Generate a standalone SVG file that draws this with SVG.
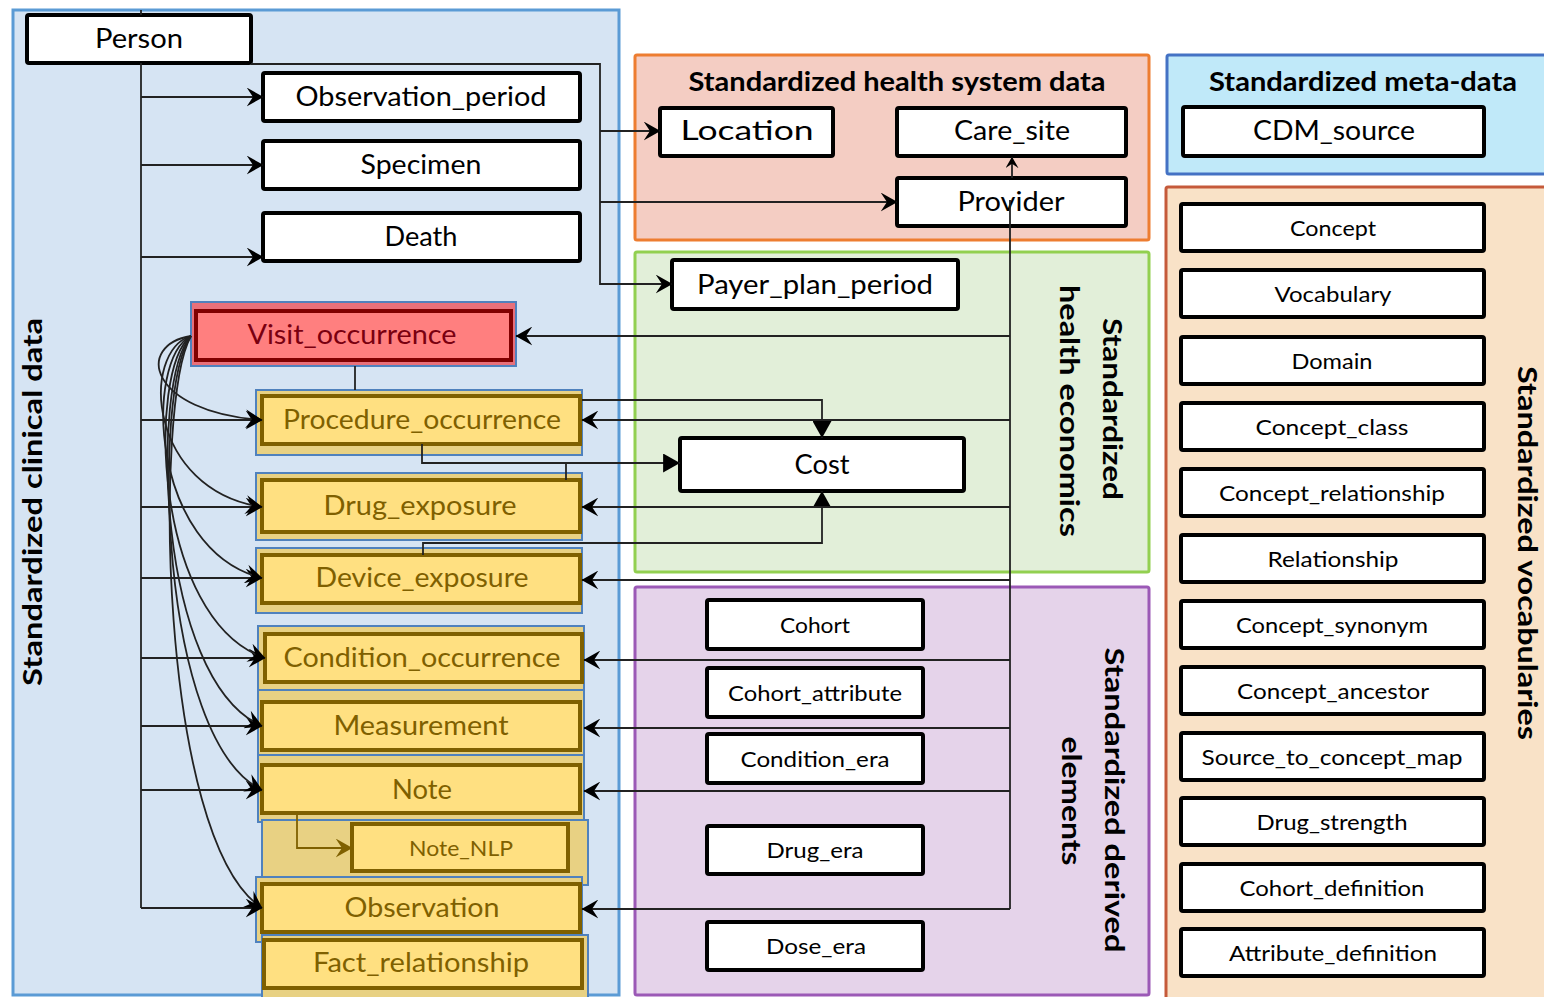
<svg xmlns="http://www.w3.org/2000/svg" width="1544" height="997" viewBox="0 0 1544 997">
<style>
.t{font-family:Lato,"Liberation Sans",sans-serif;font-size:26px;fill:#000;text-anchor:middle;dominant-baseline:central}
.s{font-size:22px}
.b{font-weight:bold}
.box{fill:#fff;stroke:#000;stroke-width:4}
.yo{fill:#e8d183;stroke:#4f81bd;stroke-width:2}
.yi{fill:#ffe081;stroke:#7f6000;stroke-width:4}
.yt{fill:#7f6000}
.c{fill:none;stroke:#222;stroke-width:1.8}
.ca{fill:none;stroke:#222;stroke-width:1.8;marker-end:url(#open)}
.cf{fill:none;stroke:#222;stroke-width:1.8;marker-end:url(#tri)}
</style>
<defs>
<marker id="open" viewBox="0 0 16 18" markerWidth="17" markerHeight="19" refX="15.5" refY="9" orient="auto" markerUnits="userSpaceOnUse"><path d="M0,0 L16,9 L0,18 L6,9 z" fill="#000"/></marker>
<marker id="opensm" viewBox="0 0 16 18" markerWidth="12" markerHeight="13" refX="15.5" refY="9" orient="auto" markerUnits="userSpaceOnUse"><path d="M0,0 L16,9 L0,18 L6,9 z" fill="#000"/></marker>
<marker id="openbr" viewBox="0 0 16 18" markerWidth="17" markerHeight="19" refX="15.5" refY="9" orient="auto" markerUnits="userSpaceOnUse"><path d="M0,0 L16,9 L0,18 L6,9 z" fill="#7f6000"/></marker>
<marker id="tri" viewBox="0 0 16 18" markerWidth="17" markerHeight="19" refX="16" refY="9" orient="auto" markerUnits="userSpaceOnUse"><path d="M0,0 L16,9 L0,18 z" fill="#000"/></marker>
</defs>

<!-- panels -->
<g id="panel-clinical">
<rect x="13" y="10" width="606" height="985" fill="#d6e4f3" stroke="#5b9bd5" stroke-width="3"/>
<text class="t b" transform="translate(32,502) rotate(-90)" textLength="368" lengthAdjust="spacingAndGlyphs" font-size="27">Standardized clinical data</text>
</g>
<g id="panel-healthsystem">
<rect x="635" y="55" width="514" height="185" rx="2" fill="#f4cdc3" stroke="#ed7d31" stroke-width="3"/>
<text class="t b" x="897" y="81" textLength="417" lengthAdjust="spacingAndGlyphs">Standardized health system data</text>
</g>
<g id="panel-meta">
<rect x="1167" y="55" width="390" height="119" rx="2" fill="#c0e9f9" stroke="#4472c4" stroke-width="3"/>
<text class="t b" x="1363" y="81" textLength="308" lengthAdjust="spacingAndGlyphs">Standardized meta-data</text>
</g>
<g id="panel-economics">
<rect x="635" y="252" width="514" height="320" rx="2" fill="#e2efd9" stroke="#92d050" stroke-width="3"/>
<text class="t b" transform="translate(1113,409) rotate(90)" textLength="182" lengthAdjust="spacingAndGlyphs" font-size="28">Standardized</text>
<text class="t b" transform="translate(1070,411) rotate(90)" textLength="252" lengthAdjust="spacingAndGlyphs" font-size="28">health economics</text>
</g>
<g id="panel-derived">
<rect x="635" y="587" width="514" height="408" rx="2" fill="#e5d3ea" stroke="#9b59b6" stroke-width="3"/>
<text class="t b" transform="translate(1115,800) rotate(90)" textLength="305" lengthAdjust="spacingAndGlyphs" font-size="28">Standardized derived</text>
<text class="t b" transform="translate(1072,801) rotate(90)" textLength="129" lengthAdjust="spacingAndGlyphs" font-size="28">elements</text>
</g>
<g id="panel-vocab">
<rect x="1166" y="187" width="390" height="820" rx="2" fill="#f9e2c7" stroke="#c55a3a" stroke-width="3"/>
<text class="t b" transform="translate(1528,553) rotate(90)" textLength="374" lengthAdjust="spacingAndGlyphs" font-size="28">Standardized vocabularies</text>
</g>

<!-- nodes -->
<g id="person"><rect class="box" x="27" y="15" width="224" height="48" rx="2"/><text class="t" x="139" y="38" textLength="88" lengthAdjust="spacingAndGlyphs">Person</text></g>
<g id="observation_period"><rect class="box" x="263" y="73" width="317" height="48" rx="2"/><text class="t" x="421" y="96" textLength="251" lengthAdjust="spacingAndGlyphs">Observation_period</text></g>
<g id="specimen"><rect class="box" x="263" y="141" width="317" height="48" rx="2"/><text class="t" x="421" y="164" textLength="121" lengthAdjust="spacingAndGlyphs">Specimen</text></g>
<g id="death"><rect class="box" x="263" y="213" width="317" height="48" rx="2"/><text class="t" x="421" y="236" textLength="73" lengthAdjust="spacingAndGlyphs">Death</text></g>

<g id="visit_occurrence">
<rect x="191" y="302" width="325" height="64" fill="#e8707a" stroke="#4f81bd" stroke-width="2"/>
<rect x="196" y="311" width="315" height="49" fill="#ff7f7f" stroke="#800000" stroke-width="4"/>
<text class="t" x="352" y="334" style="fill:#7a0010" textLength="209" lengthAdjust="spacingAndGlyphs">Visit_occurrence</text>
</g>
<g id="procedure_occurrence"><rect class="yo" x="256" y="390" width="326" height="65"/><rect class="yi" x="262" y="396" width="318" height="48"/><text class="t yt" x="422" y="419" textLength="278" lengthAdjust="spacingAndGlyphs">Procedure_occurrence</text></g>
<g id="drug_exposure"><rect class="yo" x="256" y="473" width="326" height="67"/><rect class="yi" x="262" y="480" width="318" height="52"/><text class="t yt" x="420" y="505" textLength="193" lengthAdjust="spacingAndGlyphs">Drug_exposure</text></g>
<g id="device_exposure"><rect class="yo" x="256" y="548" width="326" height="65"/><rect class="yi" x="262" y="555" width="318" height="48"/><text class="t yt" x="422" y="577" textLength="213" lengthAdjust="spacingAndGlyphs">Device_exposure</text></g>
<g id="condition_occurrence"><rect class="yo" x="258" y="626" width="326" height="64"/><rect class="yi" x="265" y="634" width="317" height="48"/><text class="t yt" x="422" y="657" textLength="277" lengthAdjust="spacingAndGlyphs">Condition_occurrence</text></g>
<g id="measurement"><rect class="yo" x="258" y="690" width="326" height="65"/><rect class="yi" x="262" y="702" width="318" height="48"/><text class="t yt" x="421" y="725" textLength="175" lengthAdjust="spacingAndGlyphs">Measurement</text></g>
<g id="note"><rect class="yo" x="258" y="755" width="326" height="67"/><rect class="yi" x="262" y="765" width="318" height="48"/><text class="t yt" x="422" y="789" textLength="60" lengthAdjust="spacingAndGlyphs">Note</text></g>
<g id="note_nlp"><rect class="yo" x="262" y="820" width="326" height="65"/><rect class="yi" x="352" y="824" width="216" height="47" stroke-width="3.5"/><text class="t yt s" x="461" y="847" textLength="104" lengthAdjust="spacingAndGlyphs">Note_NLP</text></g>
<g id="observation"><rect class="yo" x="256" y="877" width="326" height="65"/><rect class="yi" x="262" y="884" width="318" height="48"/><text class="t yt" x="422" y="907" textLength="155" lengthAdjust="spacingAndGlyphs">Observation</text></g>
<g id="fact_relationship"><rect class="yo" x="262" y="935" width="326" height="70"/><rect class="yi" x="264" y="940" width="318" height="48"/><text class="t yt" x="421" y="962" textLength="216" lengthAdjust="spacingAndGlyphs">Fact_relationship</text></g>

<g id="location"><rect class="box" x="660" y="108" width="173" height="48" rx="2"/><text class="t" x="747" y="130" textLength="133" lengthAdjust="spacingAndGlyphs">Location</text></g>
<g id="care_site"><rect class="box" x="897" y="108" width="229" height="48" rx="2"/><text class="t" x="1012" y="130" textLength="116" lengthAdjust="spacingAndGlyphs">Care_site</text></g>
<g id="provider"><rect class="box" x="897" y="178" width="229" height="48" rx="2"/><text class="t" x="1011" y="201" textLength="107" lengthAdjust="spacingAndGlyphs">Provider</text></g>
<g id="cdm_source"><rect class="box" x="1183" y="107" width="301" height="49" rx="2"/><text class="t" x="1334" y="130" textLength="162" lengthAdjust="spacingAndGlyphs">CDM_source</text></g>
<g id="payer_plan_period"><rect class="box" x="672" y="260" width="286" height="49" rx="2"/><text class="t" x="815" y="284" textLength="236" lengthAdjust="spacingAndGlyphs">Payer_plan_period</text></g>
<g id="cost"><rect class="box" x="680" y="438" width="284" height="53" rx="2"/><text class="t" x="822" y="464" textLength="55" lengthAdjust="spacingAndGlyphs">Cost</text></g>

<g id="cohort"><rect class="box" x="707" y="600" width="216" height="49" rx="2"/><text class="t s" x="815" y="624" textLength="70" lengthAdjust="spacingAndGlyphs">Cohort</text></g>
<g id="cohort_attribute"><rect class="box" x="707" y="668" width="216" height="49" rx="2"/><text class="t s" x="815" y="692" textLength="174" lengthAdjust="spacingAndGlyphs">Cohort_attribute</text></g>
<g id="condition_era"><rect class="box" x="707" y="734" width="216" height="49" rx="2"/><text class="t s" x="815" y="758" textLength="149" lengthAdjust="spacingAndGlyphs">Condition_era</text></g>
<g id="drug_era"><rect class="box" x="707" y="826" width="216" height="48" rx="2"/><text class="t s" x="815" y="849" textLength="97" lengthAdjust="spacingAndGlyphs">Drug_era</text></g>
<g id="dose_era"><rect class="box" x="707" y="922" width="216" height="48" rx="2"/><text class="t s" x="816" y="945" textLength="100" lengthAdjust="spacingAndGlyphs">Dose_era</text></g>

<g id="concept"><rect class="box" x="1181" y="204" width="303" height="47" rx="2"/><text class="t s" x="1333" y="227" textLength="86" lengthAdjust="spacingAndGlyphs">Concept</text></g>
<g id="vocabulary"><rect class="box" x="1181" y="270" width="303" height="47" rx="2"/><text class="t s" x="1333" y="293" textLength="117" lengthAdjust="spacingAndGlyphs">Vocabulary</text></g>
<g id="domain"><rect class="box" x="1181" y="337" width="303" height="47" rx="2"/><text class="t s" x="1332" y="360" textLength="81" lengthAdjust="spacingAndGlyphs">Domain</text></g>
<g id="concept_class"><rect class="box" x="1181" y="403" width="303" height="47" rx="2"/><text class="t s" x="1332" y="426" textLength="153" lengthAdjust="spacingAndGlyphs">Concept_class</text></g>
<g id="concept_relationship"><rect class="box" x="1181" y="469" width="303" height="47" rx="2"/><text class="t s" x="1332" y="492" textLength="226" lengthAdjust="spacingAndGlyphs">Concept_relationship</text></g>
<g id="relationship"><rect class="box" x="1181" y="535" width="303" height="47" rx="2"/><text class="t s" x="1333" y="558" textLength="131" lengthAdjust="spacingAndGlyphs">Relationship</text></g>
<g id="concept_synonym"><rect class="box" x="1181" y="601" width="303" height="47" rx="2"/><text class="t s" x="1332" y="624" textLength="192" lengthAdjust="spacingAndGlyphs">Concept_synonym</text></g>
<g id="concept_ancestor"><rect class="box" x="1181" y="667" width="303" height="47" rx="2"/><text class="t s" x="1333" y="690" textLength="192" lengthAdjust="spacingAndGlyphs">Concept_ancestor</text></g>
<g id="source_to_concept_map"><rect class="box" x="1181" y="733" width="303" height="47" rx="2"/><text class="t s" x="1332" y="756" textLength="261" lengthAdjust="spacingAndGlyphs">Source_to_concept_map</text></g>
<g id="drug_strength"><rect class="box" x="1181" y="798" width="303" height="47" rx="2"/><text class="t s" x="1332" y="821" textLength="151" lengthAdjust="spacingAndGlyphs">Drug_strength</text></g>
<g id="cohort_definition"><rect class="box" x="1181" y="864" width="303" height="47" rx="2"/><text class="t s" x="1332" y="887" textLength="185" lengthAdjust="spacingAndGlyphs">Cohort_definition</text></g>
<g id="attribute_definition"><rect class="box" x="1181" y="929" width="303" height="47" rx="2"/><text class="t s" x="1333" y="952" textLength="208" lengthAdjust="spacingAndGlyphs">Attribute_definition</text></g>

<!-- connectors -->
<g id="connectors">
<path class="c" d="M141,10 V15"/>
<path class="c" d="M141,63 V908" stroke-width="2.5"/>
<path class="ca" d="M141,97 H263"/>
<path class="ca" d="M141,165 H263"/>
<path class="ca" d="M141,257 H263"/>
<path class="ca" d="M141,420 H262"/>
<path class="ca" d="M141,507 H262"/>
<path class="ca" d="M141,578 H262"/>
<path class="ca" d="M141,658 H265"/>
<path class="ca" d="M141,726 H262"/>
<path class="ca" d="M141,790 H262"/>
<path class="ca" d="M141,908 H262"/>
<path class="ca" d="M251,64 H600 V284 H672"/>
<path class="ca" d="M600,131 H660"/>
<path class="ca" d="M600,202 H897"/>
<path class="c" d="M355,366 V390"/>
<path class="ca" d="M191,336 C135,345 148,412 262,420"/>
<path class="ca" d="M191,336 C140,352 148,490 262,507"/>
<path class="ca" d="M191,336 C144,360 150,550 262,578"/>
<path class="ca" d="M191,336 C147,370 153,620 265,658"/>
<path class="ca" d="M191,336 C150,380 156,680 262,726"/>
<path class="ca" d="M191,336 C152,390 158,740 262,790"/>
<path class="ca" d="M191,336 C154,400 158,840 262,908"/>
<path class="cf" d="M582,400 H822 V438"/>
<path class="cf" d="M422,444 V463 H680"/>
<path class="c" d="M566,480 V463"/>
<path class="cf" d="M423,555 V543 H822 V491"/>
<path class="c" d="M1010,200 V909" stroke-width="2.2"/>
<path class="ca" d="M1010,336 H516"/>
<path class="ca" d="M1010,420 H582"/>
<path class="ca" d="M1010,507 H582"/>
<path class="ca" d="M1010,580 H582"/>
<path class="ca" d="M1010,660 H584"/>
<path class="ca" d="M1010,728 H584"/>
<path class="ca" d="M1010,791 H584"/>
<path class="ca" d="M1010,909 H582"/>
<path class="c" d="M1012,178 V157" marker-end="url(#opensm)"/>
<path d="M297,815 V848 H352" fill="none" stroke="#7f6000" stroke-width="1.8" marker-end="url(#openbr)"/>
</g>
</svg>
